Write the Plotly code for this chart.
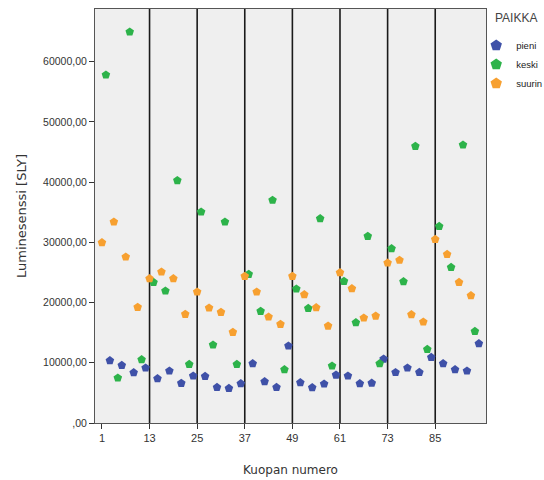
import plotly.graph_objects as go

# Well numbers: each plate row holds three positions (suurin, keski, pieni)
suurin_x = list(range(1, 97, 3))
keski_x = list(range(2, 97, 3))
pieni_x = list(range(3, 97, 3))

suurin = [29970, 33390, 27570, 19220, 23990, 25080, 23990, 18060, 21760, 19100, 18390,
          15070, 24370, 21760, 17610, 16400, 24370, 21330, 19170, 16110, 24980, 22320,
          17440, 17770, 26580, 27030, 18000, 16780, 30510, 28020, 23370, 21160]
keski = [57800, 7480, 64950, 10530, 23370, 21930, 40270, 9750, 35050, 12960, 33390,
         9750, 24700, 18560, 37000, 8870, 22260, 19050, 33950, 9470, 23540, 16670,
         31010, 9860, 28970, 23490, 45960, 12240, 32670, 25860, 46180, 15230]
pieni = [10370, 9580, 8370, 9140, 7380, 8640, 6600, 7810, 7760, 5930, 5760, 6540,
         9870, 6880, 5930, 12790, 6710, 5880, 6480, 7970, 7810, 6540, 6640, 10630,
         8400, 9140, 8420, 10910, 9860, 8870, 8640, 13190]

x_ticks = [1, 13, 25, 37, 49, 61, 73, 85]
y_ticks = [0, 10000, 20000, 30000, 40000, 50000, 60000]


def fi_label(v):
    s = f"{v:.2f}".replace(".", ",")
    return s[1:] if s.startswith("0,") else s


y_text = [fi_label(v) for v in y_ticks]

series = [
    ("pieni", pieni_x, pieni, "#3F51A8"),
    ("keski", keski_x, keski, "#2DB34A"),
    ("suurin", suurin_x, suurin, "#F7A030"),
]

fig = go.Figure()
for name, xs, ys, col in series:
    fig.add_trace(go.Scatter(
        x=xs, y=ys, mode="markers", name=name,
        marker=dict(symbol="pentagon", size=9, color=col, line=dict(width=0)),
    ))

# Dark separator lines at the labelled well numbers (except the first)
for t in x_ticks[1:]:
    fig.add_shape(type="line", xref="x", yref="paper", x0=t, x1=t, y0=0, y1=1,
                  line=dict(color="#1a1a1a", width=1.6), layer="below")

font_main = "Liberation Sans, Arial, sans-serif"

# Legend heading
fig.add_annotation(text="PAIKKA", xref="paper", yref="paper", x=1.017, y=0.978,
                   xanchor="left", yanchor="middle", showarrow=False,
                   font=dict(family=font_main, size=12, color="#444444"))

fig.update_layout(
    width=544, height=480,
    margin=dict(l=95, r=58, t=9, b=57, autoexpand=False),
    paper_bgcolor="white",
    plot_bgcolor="#EFEFEF",
    font=dict(family=font_main, size=11, color="#333333"),
    showlegend=True,
    legend=dict(
        x=0.975, y=0.947, xanchor="left", yanchor="top",
        font=dict(size=9.5, color="#222222"),
        bgcolor="rgba(0,0,0,0)", itemsizing="constant",
        tracegroupgap=0,
    ),
)

fig.update_xaxes(
    range=[-0.75, 97.8],
    tickmode="array", tickvals=x_ticks, ticktext=[str(t) for t in x_ticks],
    ticks="outside", ticklen=5, tickcolor="#333333",
    showgrid=False, zeroline=False,
    showline=True, linecolor="#555555", linewidth=1, mirror=True,
    tickfont=dict(size=11, color="#333333"),
    title=dict(text="Kuopan numero", font=dict(family="DejaVu Sans, sans-serif", size=12, color="#333333"), standoff=22),
)
fig.update_yaxes(
    range=[0, 68750],
    tickmode="array", tickvals=y_ticks, ticktext=y_text,
    ticks="outside", ticklen=5, tickcolor="#333333",
    showgrid=False, zeroline=False,
    showline=True, linecolor="#555555", linewidth=1, mirror=True,
    tickfont=dict(size=10.5, color="#333333"),
    title=dict(text="Luminesenssi [SLY]", font=dict(family="DejaVu Sans, sans-serif", size=13, color="#333333"), standoff=13),
)

fig.write_html("out.html")
